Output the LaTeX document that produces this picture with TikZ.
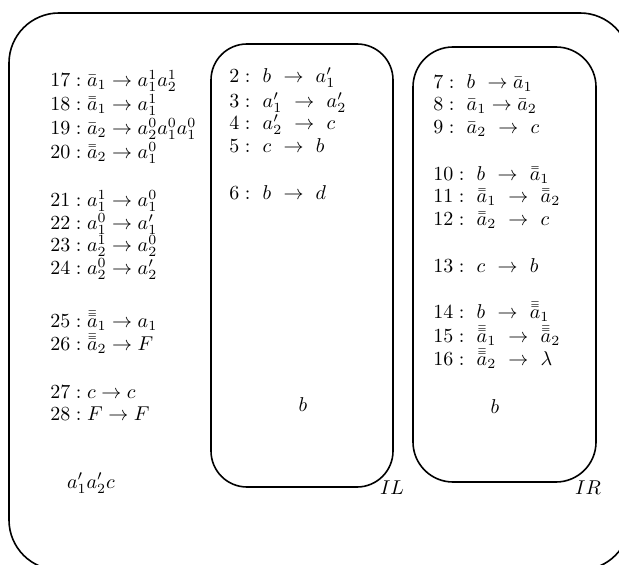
\documentclass[tikz,border=0pt]{standalone}
\tikzset{
  rulebox/.style={anchor=base west, inner sep=0pt},
  frame/.style={draw, line width=0.8pt, rectangle, inner sep=0pt, outer sep=0pt},
  tag/.style={inner sep=0pt}
}
\newcommand{\bb}[1]{\bar{\bar{#1}}}
\newcommand{\bbb}[1]{\bar{\bar{\bar{#1}}}}
\begin{document}
\begin{tikzpicture}[x=0.5pt,y=-0.5pt]
\useasboundingbox (0,0) rectangle (619,565);
\clip (0,0) rectangle (619,565);
% frames
\node[frame, rounded corners=25pt, minimum width=310.5pt, minimum height=278.5pt] (outer) at (319.5,291.5) {};
\node[frame, rounded corners=18pt, minimum width=91pt, minimum height=221.5pt] (IL) at (302,265.5) {};
\node[frame, rounded corners=20pt, minimum width=91.5pt, minimum height=217.5pt] (IR) at (504.5,264.5) {};
% left column
\node[rulebox] (r17) at (50,87) {$17:\bar{a}_1\rightarrow a_1^1a_2^1$};
\node[rulebox] (r18) at (50,111) {$18:\bb{a}_1\rightarrow a_1^1$};
\node[rulebox] (r19) at (50,135) {$19:\bar{a}_2\rightarrow a_2^0a_1^0a_1^0$};
\node[rulebox] (r20) at (50,159) {$20:\bb{a}_2\rightarrow a_1^0$};
\node[rulebox] (r21) at (50,207) {$21:a_1^1\rightarrow a_1^0$};
\node[rulebox] (r22) at (50,230) {$22:a_1^0\rightarrow a_1'$};
\node[rulebox] (r23) at (50,252) {$23:a_2^1\rightarrow a_2^0$};
\node[rulebox] (r24) at (50,275) {$24:a_2^0\rightarrow a_2'$};
\node[rulebox] (r25) at (50,328) {$25:\bbb{a}_1\rightarrow a_1$};
\node[rulebox] (r26) at (50,351) {$26:\bbb{a}_2\rightarrow F$};
\node[rulebox] (r27) at (50,399) {$27:c\rightarrow c$};
\node[rulebox] (r28) at (50,421) {$28:F\rightarrow F$};
\node[tag] (w) at (91,483) {$a_1'a_2'c$};
% IL column
\node[rulebox] (r2) at (229,83) {$2:\ b\ \rightarrow\ a_1'$};
\node[rulebox] (r3) at (229,108) {$3:\ a_1'\ \rightarrow\ a_2'$};
\node[rulebox] (r4) at (229,130) {$4:\ a_2'\ \rightarrow\ c$};
\node[rulebox] (r5) at (229,153) {$5:\ c\ \rightarrow\ b$};
\node[rulebox] (r6) at (229,200) {$6:\ b\ \rightarrow\ d$};
\node[tag] (bL) at (303,405) {$b$};
\node[tag] (lL) at (392,488) {$IL$};
% IR column
\node[rulebox] (r7) at (433,89) {$7:\ b\ \rightarrow\bar{a}_1$};
\node[rulebox] (r8) at (433,111) {$8:\ \bar{a}_1\rightarrow\bar{a}_2$};
\node[rulebox] (r9) at (433,134) {$9:\ \bar{a}_2\ \rightarrow\ c$};
\node[rulebox] (r10) at (433,181) {$10:\ b\ \rightarrow\ \bb{a}_1$};
\node[rulebox] (r11) at (433,203) {$11:\ \bb{a}_1\ \rightarrow\ \bb{a}_2$};
\node[rulebox] (r12) at (433,226) {$12:\ \bb{a}_2\ \rightarrow\ c$};
\node[rulebox] (r13) at (433,273) {$13:\ c\ \rightarrow\ b$};
\node[rulebox] (r14) at (433,319) {$14:\ b\ \rightarrow\ \bbb{a}_1$};
\node[rulebox] (r15) at (433,343) {$15:\ \bbb{a}_1\ \rightarrow\ \bbb{a}_2$};
\node[rulebox] (r16) at (433,366) {$16:\ \bbb{a}_2\ \rightarrow\ \lambda$};
\node[tag] (bR) at (495,407) {$b$};
\node[tag] (lR) at (588,488) {$IR$};
\end{tikzpicture}
\end{document}
